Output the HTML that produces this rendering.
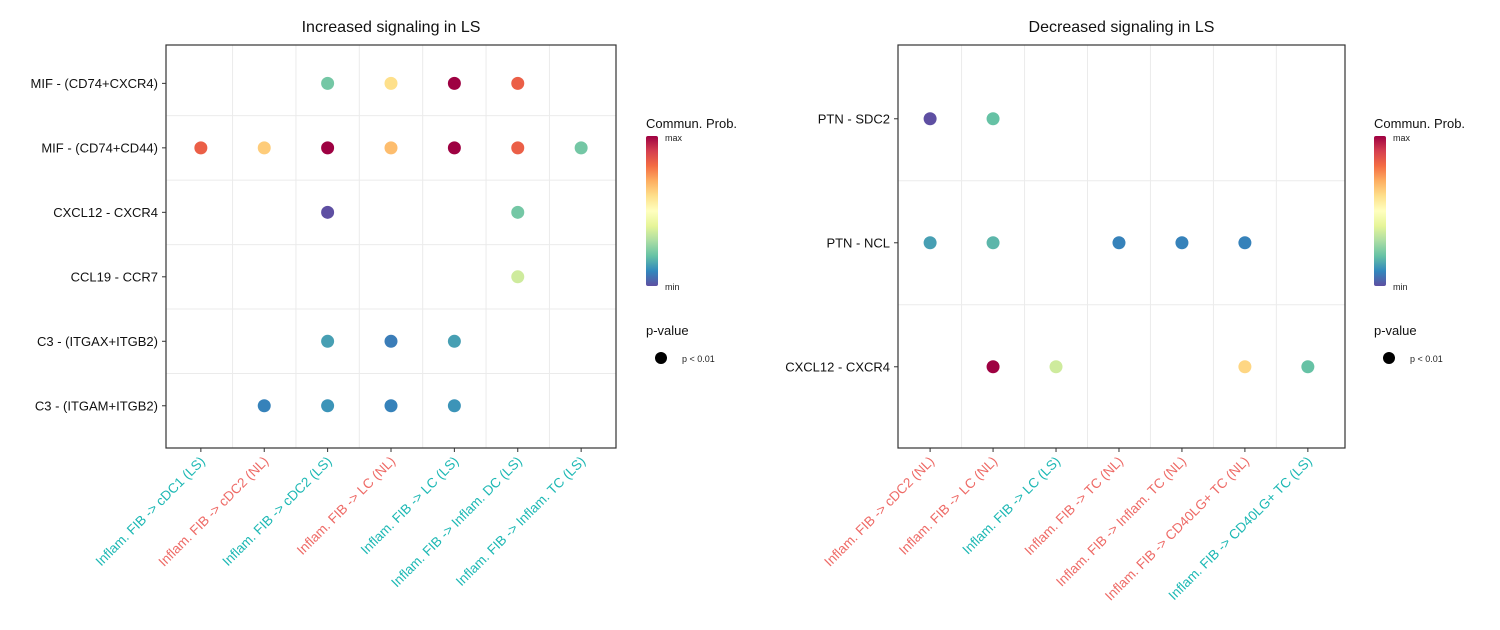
<!DOCTYPE html>
<html><head><meta charset="utf-8"><style>
body{margin:0;background:#fff;width:1500px;height:625px;overflow:hidden}
svg{font-family:"Liberation Sans",Arial,sans-serif}
</style></head><body>
<svg id="chart" width="1500" height="625">
<defs><linearGradient id="spec" x1="0" y1="1" x2="0" y2="0">
<stop offset="0" stop-color="#5E4FA2"/><stop offset="0.1" stop-color="#3288BD"/><stop offset="0.2" stop-color="#66C2A5"/><stop offset="0.3" stop-color="#ABDDA4"/><stop offset="0.4" stop-color="#E6F598"/><stop offset="0.5" stop-color="#FFFFBF"/><stop offset="0.6" stop-color="#FEE08B"/><stop offset="0.7" stop-color="#FDAE61"/><stop offset="0.8" stop-color="#F46D43"/><stop offset="0.9" stop-color="#D53E4F"/><stop offset="1" stop-color="#9E0142"/></linearGradient></defs>
</svg>
<script>
// Left panel data
const leftCats=["Inflam. FIB -> cDC1 (LS)","Inflam. FIB -> cDC2 (NL)","Inflam. FIB -> cDC2 (LS)","Inflam. FIB -> LC (NL)","Inflam. FIB -> LC (LS)","Inflam. FIB -> Inflam. DC (LS)","Inflam. FIB -> Inflam. TC (LS)"];
const leftRows=["MIF - (CD74+CXCR4)","MIF - (CD74+CD44)","CXCL12 - CXCR4","CCL19 - CCR7","C3 - (ITGAX+ITGB2)","C3 - (ITGAM+ITGB2)"];
const leftVals=[
[null,null,0.22,0.6,1.0,0.83,null],
[0.83,0.64,1.0,0.67,1.0,0.83,0.22],
[null,null,0.0,null,null,0.22,null],
[null,null,null,null,null,0.36,null],
[null,null,0.14,0.08,0.14,null,null],
[null,0.09,0.12,0.09,0.12,null,null]];
// Right panel data
const rightCats=["Inflam. FIB -> cDC2 (NL)","Inflam. FIB -> LC (NL)","Inflam. FIB -> LC (LS)","Inflam. FIB -> TC (NL)","Inflam. FIB -> Inflam. TC (NL)","Inflam. FIB -> CD40LG+ TC (NL)","Inflam. FIB -> CD40LG+ TC (LS)"];
const rightRows=["PTN - SDC2","PTN - NCL","CXCL12 - CXCR4"];
const rightVals=[
[0.0,0.2,null,null,null,null,null],
[0.14,0.18,null,0.09,0.09,0.09,null],
[null,1.0,0.36,null,null,0.62,0.2]];

const pal=["#5E4FA2","#3288BD","#66C2A5","#ABDDA4","#E6F598","#FFFFBF","#FEE08B","#FDAE61","#F46D43","#D53E4F","#9E0142"];
function hx(c){return [1,3,5].map(i=>parseInt(c.substr(i,2),16));}
function col(v){const t=Math.max(0,Math.min(1,v))*10;const i=Math.min(9,Math.floor(t));const f=t-i;const a=hx(pal[i]),b=hx(pal[i+1]);return "rgb("+a.map((x,k)=>Math.round(x+(b[k]-x)*f)).join(",")+")";}
const svg=document.getElementById('chart');const NS="http://www.w3.org/2000/svg";
function mk(tag,attrs,txt){const e=document.createElementNS(NS,tag);for(const k in attrs)e.setAttribute(k,attrs[k]);if(txt!=null)e.textContent=txt;svg.appendChild(e);return e;}

function panel(p){
 const L=p.x0,R=p.x1,T=45,B=448,n=p.cats.length,m=p.rows.length;
 const bw=(R-L)/(n+0.1), x=i=>L+bw*(i+p.xo);
 const bh=(B-T)/(m+0.25), y=j=>T+bh*(j+0.595);
 let t=mk('text',{x:(L+R)/2,y:32,'text-anchor':'middle','font-size':16,fill:'#111'},p.title);
 
 
 for(let i=0;i<n-1;i++){const g=mk('line',{x1:(x(i)+x(i+1))/2,x2:(x(i)+x(i+1))/2,y1:T,y2:B,stroke:'#ebebeb','stroke-width':1});
  
  }
 for(let j=0;j<m-1;j++){const g=mk('line',{x1:L,x2:R,y1:(y(j)+y(j+1))/2,y2:(y(j)+y(j+1))/2,stroke:'#ebebeb','stroke-width':1});
  
  }
 p.rows.forEach((r,j)=>{const tk=mk('line',{x1:L-4,x2:L,y1:y(j),y2:y(j),stroke:'#333'});
  
  
  const lb=mk('text',{x:L-8,y:y(j)+4.5,'text-anchor':'end','font-size':13,fill:'#111'},r);
  
  });
 p.cats.forEach((c,i)=>{const tk=mk('line',{x1:x(i),x2:x(i),y1:B,y2:B+4,stroke:'#333'});
  
  
  const lb=mk('text',{x:x(i)+5,y:B+14,'text-anchor':'end','font-size':13.5,fill:c.endsWith('(LS)')?'#1DB8B4':'#EE6A66',transform:`rotate(-45 ${x(i)+5} ${B+14})`},c);
  
  });
 p.vals.forEach((row,j)=>row.forEach((v,i)=>{if(v==null)return;
  const d=mk('circle',{cx:x(i),cy:y(j),r:6.5,fill:col(v)});
  
  }));
 const bx=mk('rect',{x:L,y:T,width:R-L,height:B-T,fill:'none',stroke:'#333','stroke-width':1.2});
 
 
 const lx=p.lx;
 const lt=mk('text',{x:lx,y:128,'font-size':13,fill:'#111'},'Commun. Prob.');
 
 
 const cb=mk('rect',{x:lx,y:136,width:12,height:150,fill:'url(#spec)',rx:2});
 
 
 const mx=mk('text',{x:lx+19,y:141,'font-size':9,fill:'#222'},'max');
 
 
 const mn=mk('text',{x:lx+19,y:290,'font-size':9,fill:'#222'},'min');
 
 
 const pt=mk('text',{x:lx,y:335,'font-size':13,fill:'#111'},'p-value');
 
 
 const pd=mk('circle',{cx:lx+15,cy:358,r:6,fill:'#000'});
 
 
 const pl=mk('text',{x:lx+36,y:362,'font-size':9,fill:'#222'},'p < 0.01');
 
 
}
panel({key:'increased',title:'Increased signaling in LS',x0:166,x1:616,xo:0.55,cats:leftCats,rows:leftRows,vals:leftVals,lx:646});
panel({key:'decreased',title:'Decreased signaling in LS',x0:898,x1:1345,xo:0.51,cats:rightCats,rows:rightRows,vals:rightVals,lx:1374});
</script>
</body></html>
